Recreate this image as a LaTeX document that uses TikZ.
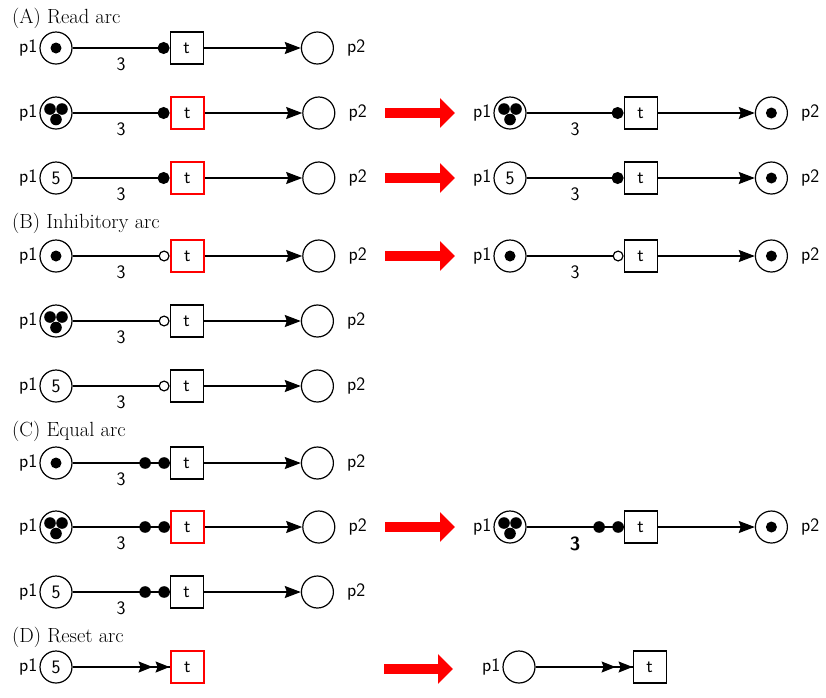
\documentclass[tikz,border=0pt]{standalone}
\usetikzlibrary{arrows.meta, positioning, decorations.markings}
\newcommand\tokone[1]{\fill (#1) circle (5.5pt);}
\newcommand\tokthree[1]{\fill ([shift={(-6,-4)}]#1) circle (5.8pt); \fill ([shift={(6,-4)}]#1) circle (5.8pt); \fill ([shift={(0,6.5)}]#1) circle (5.8pt);}
\begin{document}
\begin{tikzpicture}[
    x=1pt, y=-1pt,
    node distance=97pt,
    sans/.style={font=\sffamily\fontsize{19}{22}\selectfont},
    title/.style={anchor=base west, inner sep=0pt, font=\fontsize{20.5}{24}\selectfont},
    place/.style={circle, draw, line width=1.2pt, minimum size=32pt, inner sep=0pt, sans},
    trans/.style={rectangle, draw, line width=1.2pt, minimum width=33pt, minimum height=32pt, inner sep=0pt, sans},
    enabled/.style={trans, draw=red, line width=2.6pt},
    pone/.style={label={[sans, inner sep=0pt, label distance=2pt]left:p1}},
    ptwo/.style={label={[sans, inner sep=0pt, label distance=13pt]right:p2}},
    weight/.style={sans, below=6pt, midway},
    arc/.style={line width=1.2pt},
    normal/.style={arc, -{Stealth[length=16pt, width=12pt, inset=2pt]}},
    readarc/.style={arc, -{Circle[length=12pt]}},
    inhibarc/.style={arc, -{Circle[open, length=11pt]}},
    equalarc/.style={arc, postaction={decorate}, decoration={markings,
        mark=at position -24.5pt with {\fill (0,0) circle (5.8pt);},
        mark=at position -5.5pt with {\fill (0,0) circle (5.8pt);}}},
    resetarc/.style={arc, postaction={decorate}, decoration={markings,
        mark=at position -17pt with {\arrow{Stealth[length=14pt, width=11pt, inset=2pt]}},
        mark=at position -0.01pt with {\arrow{Stealth[length=14pt, width=11pt, inset=2pt]}}}},
    bigarrow/.style={red, line width=10pt, -{Triangle[length=15pt, width=29pt]}}
]
\useasboundingbox (0,0) rectangle (826,697);

% (A) read arc
\node[title] (secA) at (12,23.5) {(A) Read arc};
\node[place, pone] (a1p1) at (56,48) {};
\node[trans, right=of a1p1] (a1t) {t};
\node[place, ptwo, right=of a1t] (a1p2) {};
\tokone{a1p1}
\draw[readarc] (a1p1) -- node[weight] {3} (a1t);
\draw[normal] (a1t) -- (a1p2);

\node[place, pone] (a2p1) at (56,113) {};
\node[enabled, right=of a2p1] (a2t) {t};
\node[place, ptwo, right=of a2t] (a2p2) {};
\tokthree{a2p1}
\draw[readarc] (a2p1) -- node[weight] {3} (a2t);
\draw[normal] (a2t) -- (a2p2);

\node[place, pone] (a3p1) at (56,178) {5};
\node[enabled, right=of a3p1] (a3t) {t};
\node[place, ptwo, right=of a3t] (a3p2) {};
\draw[readarc] (a3p1) -- node[weight] {3} (a3t);
\draw[normal] (a3t) -- (a3p2);

% (A) after firing
\node[place, pone] (a2p1f) at (510,113) {};
\node[trans, right=of a2p1f] (a2tf) {t};
\node[place, ptwo, right=of a2tf] (a2p2f) {};
\tokthree{a2p1f}
\tokone{a2p2f}
\draw[readarc] (a2p1f) -- node[weight] {3} (a2tf);
\draw[normal] (a2tf) -- (a2p2f);

\node[place, pone] (a3p1f) at (510,178) {5};
\node[trans, right=of a3p1f] (a3tf) {t};
\node[place, ptwo, right=of a3tf] (a3p2f) {};
\tokone{a3p2f}
\draw[readarc] (a3p1f) -- node[weight] {3} (a3tf);
\draw[normal] (a3tf) -- (a3p2f);

% (B) inhibitory arc
\node[title] (secB) at (12,228.5) {(B) Inhibitory arc};
\node[place, pone] (b1p1) at (56,256) {};
\node[enabled, right=of b1p1] (b1t) {t};
\node[place, ptwo, right=of b1t] (b1p2) {};
\tokone{b1p1}
\draw[inhibarc] (b1p1) -- node[weight] {3} (b1t);
\draw[normal] (b1t) -- (b1p2);

\node[place, pone] (b2p1) at (56,321) {};
\node[trans, right=of b2p1] (b2t) {t};
\node[place, ptwo, right=of b2t] (b2p2) {};
\tokthree{b2p1}
\draw[inhibarc] (b2p1) -- node[weight] {3} (b2t);
\draw[normal] (b2t) -- (b2p2);

\node[place, pone] (b3p1) at (56,386) {5};
\node[trans, right=of b3p1] (b3t) {t};
\node[place, ptwo, right=of b3t] (b3p2) {};
\draw[inhibarc] (b3p1) -- node[weight] {3} (b3t);
\draw[normal] (b3t) -- (b3p2);

\node[place, pone] (b1p1f) at (510,256) {};
\node[trans, right=of b1p1f] (b1tf) {t};
\node[place, ptwo, right=of b1tf] (b1p2f) {};
\tokone{b1p1f}
\tokone{b1p2f}
\draw[inhibarc] (b1p1f) -- node[weight] {3} (b1tf);
\draw[normal] (b1tf) -- (b1p2f);

% (C) equal arc
\node[title] (secC) at (12,436.5) {(C) Equal arc};
\node[place, pone] (c1p1) at (56,463) {};
\node[trans, right=of c1p1] (c1t) {t};
\node[place, ptwo, right=of c1t] (c1p2) {};
\tokone{c1p1}
\draw[equalarc] (c1p1) -- node[weight] {3} (c1t);
\draw[normal] (c1t) -- (c1p2);

\node[place, pone] (c2p1) at (56,527) {};
\node[enabled, right=of c2p1] (c2t) {t};
\node[place, ptwo, right=of c2t] (c2p2) {};
\tokthree{c2p1}
\draw[equalarc] (c2p1) -- node[weight] {3} (c2t);
\draw[normal] (c2t) -- (c2p2);

\node[place, pone] (c3p1) at (56,592) {5};
\node[trans, right=of c3p1] (c3t) {t};
\node[place, ptwo, right=of c3t] (c3p2) {};
\draw[equalarc] (c3p1) -- node[weight] {3} (c3t);
\draw[normal] (c3t) -- (c3p2);

\node[place, pone] (c2p1f) at (510,527) {};
\node[trans, right=of c2p1f] (c2tf) {t};
\node[place, ptwo, right=of c2tf] (c2p2f) {};
\tokthree{c2p1f}
\tokone{c2p2f}
\draw[equalarc] (c2p1f) -- node[weight] {\textbf{3}} (c2tf);
\draw[normal] (c2tf) -- (c2p2f);

% (D) reset arc
\node[title] (secD) at (12,642) {(D) Reset arc};
\node[place, pone] (d1p1) at (56,667) {5};
\node[enabled, right=of d1p1] (d1t) {t};
\draw[resetarc] (d1p1) -- (d1t);

\node[place, pone] (d1p1f) at (519,667) {};
\node[trans, right=of d1p1f] (d1tf) {t};
\draw[resetarc] (d1p1f) -- (d1tf);

% firing arrows
\coordinate (fa2s) at (385,113);
\coordinate (fa2e) at (455,113);
\coordinate (fa3s) at (385,178);
\coordinate (fa3e) at (455,178);
\coordinate (fb1s) at (385,256);
\coordinate (fb1e) at (455,256);
\coordinate (fc2s) at (385,527);
\coordinate (fc2e) at (455,527);
\coordinate (fd1s) at (384,669);
\coordinate (fd1e) at (453,669);
\draw[bigarrow] (fa2s) -- (fa2e);
\draw[bigarrow] (fa3s) -- (fa3e);
\draw[bigarrow] (fb1s) -- (fb1e);
\draw[bigarrow] (fc2s) -- (fc2e);
\draw[bigarrow] (fd1s) -- (fd1e);
\end{tikzpicture}
\end{document}
